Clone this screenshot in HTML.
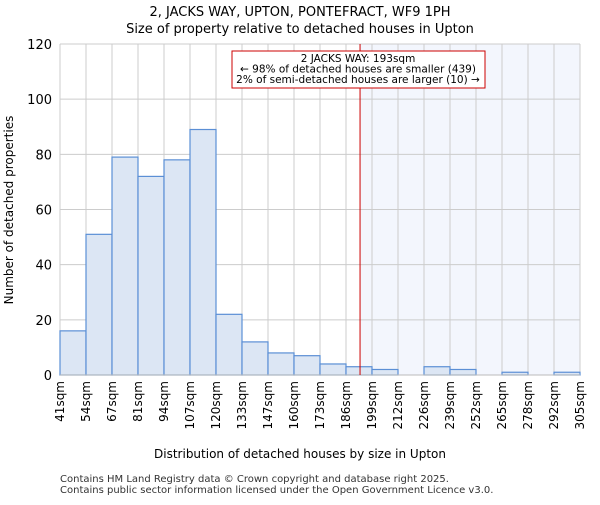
<!DOCTYPE html>
<html><head><meta charset="utf-8"><style>body{margin:0;background:#fff}svg{font-family:"DejaVu Sans","Liberation Sans",sans-serif}</style></head>
<body>
<svg id="chart" width="600" height="500" viewBox="0 0 600 500" xmlns="http://www.w3.org/2000/svg">
<text x="300" y="16" text-anchor="middle" font-size="13">2, JACKS WAY, UPTON, PONTEFRACT, WF9 1PH</text>
<text x="300" y="33" text-anchor="middle" font-size="13">Size of property relative to detached houses in Upton</text>
<g id="plot"></g>
<text x="300" y="458" text-anchor="middle" font-size="12">Distribution of detached houses by size in Upton</text>
<text transform="translate(13,210) rotate(-90)" text-anchor="middle" font-size="12">Number of detached properties</text>
<text x="60" y="482" font-size="10" fill="#333">Contains HM Land Registry data © Crown copyright and database right 2025.</text>
<text x="60" y="493" font-size="10" fill="#333">Contains public sector information licensed under the Open Government Licence v3.0.</text>
</svg>
<script>
const binLabels=["41sqm","54sqm","67sqm","81sqm","94sqm","107sqm","120sqm","133sqm","147sqm","160sqm","173sqm","186sqm","199sqm","212sqm","226sqm","239sqm","252sqm","265sqm","278sqm","292sqm","305sqm"];
const counts=[16,51,79,72,78,89,22,12,8,7,4,3,2,0,3,2,0,1,0,1];
const yTicks=[0,20,40,60,80,100,120];
const markerBin=11.54;
const annotLines=["2 JACKS WAY: 193sqm","← 98% of detached houses are smaller (439)","2% of semi-detached houses are larger (10) →"];
const L=60,R=580,T=44,B=375,yMax=120;
const bw=(R-L)/counts.length;
const x=i=>L+i*bw, y=v=>B-(v/yMax)*(B-T);
const g=document.getElementById('plot');const NS="http://www.w3.org/2000/svg";
function mk(t,a,p){const e=document.createElementNS(NS,t);for(const k in a)e.setAttribute(k,a[k]);(p||g).appendChild(e);return e;}
const mx=x(markerBin);
let e=mk('rect',{x:mx,y:T,width:R-mx,height:B-T,fill:'#f3f6fd'});


for(let i=0;i<=counts.length;i++){e=mk('line',{x1:x(i),x2:x(i),y1:T,y2:B,stroke:'#cccccc'});

}
yTicks.forEach(v=>{e=mk('line',{x1:L,x2:R,y1:y(v),y2:y(v),stroke:'#cccccc'});


e=mk('text',{x:L-8,y:y(v)+5,'text-anchor':'end','font-size':13});e.textContent=v;

});
counts.forEach((c,i)=>{if(c<=0)return;e=mk('rect',{x:x(i),y:y(c),width:bw,height:B-y(c),fill:'#dce6f4',stroke:'#5b8fd5','stroke-width':1.2});

});
binLabels.forEach((s,i)=>{e=mk('text',{transform:`translate(${x(i)+4},381) rotate(-90)`,'text-anchor':'end','font-size':12});e.textContent=s;

});
e=mk('line',{x1:L,x2:R,y1:B,y2:B,stroke:'#bbb'});


e=mk('line',{x1:mx,x2:mx,y1:T,y2:B,stroke:'#cc0000','stroke-width':1});


e=mk('rect',{x:232,y:51,width:253,height:37,fill:'#fff',stroke:'#cc0000'});


annotLines.forEach((s,i)=>{e=mk('text',{x:358,y:62+i*10.5,'text-anchor':'middle','font-size':10.5});e.textContent=s;

});
</script>
</body></html>
